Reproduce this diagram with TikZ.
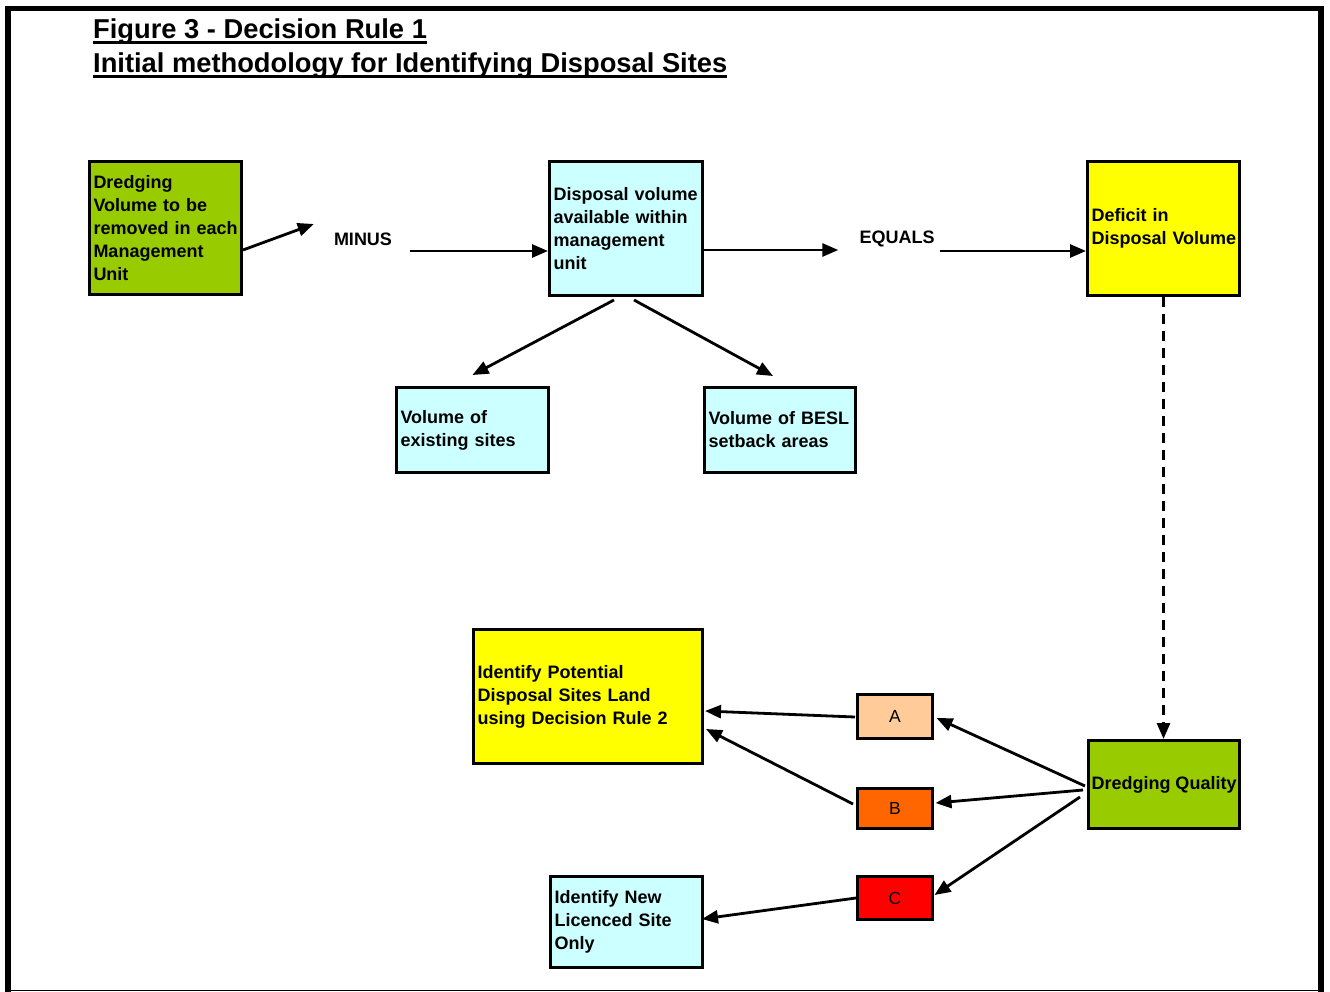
\documentclass[tikz,border=0pt]{standalone}
\usepackage{fontspec}
\setmainfont{Liberation Sans}
\usetikzlibrary{arrows.meta,calc}

\definecolor{dgreen}{HTML}{99CC00}
\definecolor{lcyan}{HTML}{CCFFFF}
\definecolor{dyellow}{HTML}{FFFF00}
\definecolor{apeach}{HTML}{FFCC99}
\definecolor{borange}{HTML}{FF6600}
\definecolor{cred}{HTML}{FF0000}

% one unbreakable line of box text
\newcommand{\boxline}[1]{\mbox{#1}}

\tikzset{
  box/.style={draw=black, line width=3pt, rectangle, inner xsep=4pt, inner ysep=0pt,
              align=left, font=\bfseries\fontsize{18}{23}\selectfont},
  letterbox/.style={draw=black, line width=3pt, rectangle, inner sep=0pt,
              minimum width=75pt, font=\fontsize{17.5}{20}\selectfont},
  word/.style={inner sep=0pt, font=\bfseries\fontsize{18}{22}\selectfont},
  arr/.style={line width=2.8pt, -{Triangle[length=16pt,width=13pt]}},
  dasharr/.style={arr, dash pattern=on 10pt off 7pt},
  titleline/.style={inner sep=0pt, anchor=base west, font=\bfseries\fontsize{27.3}{30}\selectfont},
}

\begin{document}
\begin{tikzpicture}[x=1pt,y=1pt]
\useasboundingbox (0,0) rectangle (1330,-992);

% outer frame
\draw[line width=5.5pt] (8,-992) -- (8,-8.5) -- (1321,-8.5) -- (1321,-992);
\draw[line width=1.3pt] (11,-990.7) -- (1318,-990.7);

% heading
\node[titleline] (t1) at (93,-38.5) {Figure 3 - Decision Rule 1};
\node[titleline] (t2) at (93,-72.5) {Initial methodology for Identifying Disposal Sites};
\draw[line width=2.2pt] ([yshift=-4pt]t1.base west) -- ([yshift=-4pt]t1.base east);
\draw[line width=2.2pt] ([yshift=-4pt]t2.base west) -- ([yshift=-4pt]t2.base east);

% upper row
\node[box, fill=dgreen, text width=144pt, minimum height=133pt] (dv) at (165.5,-228)
  {\boxline{Dredging}\\\boxline{Volume to be}\\\boxline{removed in each}\\\boxline{Management}\\\boxline{Unit}};
\node[word] (minus) at (363,-239) {MINUS};
\node[box, fill=lcyan, text width=145pt, minimum height=134pt] (dvol) at (626,-228.5)
  {\boxline{Disposal volume}\\\boxline{available within}\\\boxline{management}\\\boxline{unit}};
\node[word] (equals) at (897,-239) {EQUALS};
\node[box, fill=dyellow, text width=144pt, minimum height=134pt] (def) at (1163.5,-228.5)
  {\boxline{Deficit in}\\\boxline{Disposal Volume}};

% components of available volume
\node[box, fill=lcyan, text width=144pt, minimum height=85pt] (exist) at (472.5,-430)
  {\boxline{Volume of}\\\boxline{existing sites}};
\node[box, fill=lcyan, text width=143pt, minimum height=85pt] (besl) at (780,-430)
  {\boxline{Volume of BESL}\\\boxline{setback areas}};

% lower part
\node[box, fill=dyellow, text width=221pt, minimum height=134pt] (ip) at (588,-696.5)
  {\boxline{Identify Potential}\\\boxline{Disposal Sites Land}\\\boxline{using Decision Rule 2}};
\node[letterbox, fill=apeach, minimum height=44pt] (a) at (895,-716.5) {A};
\node[letterbox, fill=borange, minimum height=40pt] (b) at (895,-808.5) {B};
\node[letterbox, fill=cred, minimum height=43pt] (c) at (895,-898) {C};
\node[box, fill=dgreen, align=center, inner xsep=0pt, minimum width=151pt, minimum height=88pt] (dq) at (1164,-784.5)
  {\boxline{Dredging Quality}};
\node[box, fill=lcyan, text width=144pt, minimum height=91pt] (inew) at (626.5,-922)
  {\boxline{Identify New}\\\boxline{Licenced Site}\\\boxline{Only}};

% connectors, upper row
\draw[arr] ([yshift=-22pt]dv.east) -- ([xshift=-20pt,yshift=15pt]minus.west);
\draw[arr] ([xshift=18pt,yshift=-12pt]minus.east) -- ([yshift=-22.5pt]dvol.west);
\draw[arr] ([yshift=-21.5pt]dvol.east) -- ([xshift=-21pt,yshift=-11pt]equals.west);
\draw[arr] ([xshift=5pt,yshift=-12pt]equals.east) -- ([yshift=-22.5pt]def.west);
\draw[arr] ([xshift=-12pt,yshift=-3pt]dvol.south) -- ([yshift=11pt]exist.north);
\draw[arr] ([xshift=8pt,yshift=-3pt]dvol.south) -- ([xshift=-7pt,yshift=10pt]besl.north);
\draw[dasharr] (def.south) -- (def.south |- dq.north);

% connectors, lower part
\draw[arr] ([xshift=-1pt,yshift=-0.5pt]a.west) -- ([xshift=1pt,yshift=-14.5pt]ip.east);
\draw[arr] ([xshift=-3pt,yshift=4.5pt]b.west) -- ([xshift=2pt,yshift=-32.5pt]ip.east);
\draw[arr] ([xshift=-2pt,yshift=-1.5pt]dq.west) -- ([xshift=2.5pt,yshift=-1.5pt]a.east);
\draw[arr] ([xshift=-4pt,yshift=-5.5pt]dq.west) -- ([xshift=1.5pt,yshift=5.5pt]b.east);
\draw[arr] ([xshift=-7pt,yshift=-12.5pt]dq.west) -- ([xshift=0.5pt,yshift=3pt]c.east);
\draw[arr] ([yshift=0pt]c.west) -- ([xshift=-2pt,yshift=3pt]inew.east);
\end{tikzpicture}
\end{document}
